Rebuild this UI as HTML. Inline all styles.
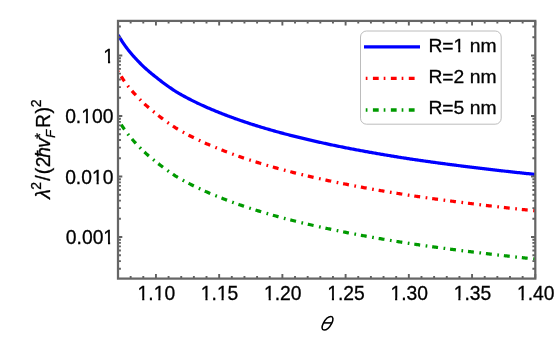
<!DOCTYPE html>
<html><head><meta charset="utf-8"><title>plot</title>
<style>html,body{margin:0;padding:0;background:#fff;}svg{display:block;will-change:transform;}text{font-family:"Liberation Sans",sans-serif;fill:#000;stroke:#000;stroke-width:0.3px;}</style>
</head><body>
<svg width="556" height="363" viewBox="0 0 556 363">
<rect x="0" y="0" width="556" height="363" fill="#fff"/>
<defs><clipPath id="cp"><rect x="118.00" y="20.90" width="417.30" height="257.70"/></clipPath></defs>
<g clip-path="url(#cp)" fill="none" stroke-linejoin="round">
<path d="M118.20,35.00 L119.24,36.79 L120.29,38.52 L121.33,40.18 L122.38,41.79 L123.42,43.35 L124.47,44.86 L125.51,46.32 L126.56,47.74 L127.60,49.11 L128.65,50.45 L129.69,51.75 L130.74,53.01 L131.78,54.24 L132.82,55.44 L133.87,56.61 L134.91,57.74 L135.96,58.86 L137.00,59.99 L138.05,61.11 L139.09,62.20 L140.14,63.26 L141.18,64.31 L142.23,65.33 L143.27,66.33 L144.31,67.31 L145.36,68.28 L146.40,69.22 L147.45,70.15 L148.49,71.06 L149.54,71.95 L150.58,72.83 L151.63,73.69 L152.67,74.54 L153.72,75.38 L154.76,76.19 L155.81,77.00 L156.85,77.85 L157.89,78.69 L158.94,79.52 L159.98,80.34 L161.03,81.15 L162.07,81.95 L163.12,82.74 L164.16,83.51 L165.21,84.28 L166.25,85.03 L167.30,85.78 L168.34,86.52 L169.38,87.24 L170.43,87.96 L171.47,88.67 L172.52,89.37 L173.56,90.06 L174.61,90.75 L175.65,91.43 L176.70,92.07 L177.74,92.68 L178.79,93.29 L179.83,93.89 L180.88,94.49 L181.92,95.07 L182.96,95.65 L184.01,96.23 L185.05,96.80 L186.10,97.36 L187.14,97.91 L188.19,98.46 L189.23,99.01 L190.28,99.54 L191.32,100.08 L192.37,100.60 L193.41,101.12 L194.45,101.64 L195.50,102.15 L196.54,102.66 L197.59,103.16 L198.63,103.65 L199.68,104.14 L200.72,104.63 L201.77,105.11 L202.81,105.59 L203.86,106.06 L204.90,106.53 L205.95,106.99 L206.99,107.45 L208.03,107.90 L209.08,108.36 L210.12,108.80 L211.17,109.25 L212.21,109.69 L213.26,110.12 L214.30,110.55 L215.35,110.98 L216.39,111.41 L217.44,111.83 L218.48,112.24 L219.52,112.66 L220.57,113.08 L221.61,113.49 L222.66,113.90 L223.70,114.31 L224.75,114.72 L225.79,115.12 L226.84,115.52 L227.88,115.91 L228.93,116.30 L229.97,116.69 L231.02,117.08 L232.06,117.46 L233.10,117.85 L234.15,118.22 L235.19,118.60 L236.24,118.97 L237.28,119.34 L238.33,119.71 L239.37,120.07 L240.42,120.43 L241.46,120.79 L242.51,121.15 L243.55,121.51 L244.59,121.86 L245.64,122.21 L246.68,122.56 L247.73,122.90 L248.77,123.24 L249.82,123.58 L250.86,123.92 L251.91,124.26 L252.95,124.59 L254.00,124.92 L255.04,125.25 L256.09,125.58 L257.13,125.91 L258.17,126.23 L259.22,126.55 L260.26,126.87 L261.31,127.19 L262.35,127.50 L263.40,127.82 L264.44,128.13 L265.49,128.44 L266.53,128.75 L267.58,129.05 L268.62,129.36 L269.67,129.66 L270.71,129.96 L271.75,130.26 L272.80,130.55 L273.84,130.85 L274.89,131.14 L275.93,131.44 L276.98,131.73 L278.02,132.02 L279.07,132.30 L280.11,132.59 L281.16,132.87 L282.20,133.15 L283.24,133.43 L284.29,133.71 L285.33,133.98 L286.38,134.26 L287.42,134.53 L288.47,134.80 L289.51,135.07 L290.56,135.34 L291.60,135.60 L292.65,135.87 L293.69,136.13 L294.74,136.39 L295.78,136.65 L296.82,136.91 L297.87,137.17 L298.91,137.43 L299.96,137.68 L301.00,137.94 L302.05,138.19 L303.09,138.44 L304.14,138.69 L305.18,138.94 L306.23,139.19 L307.27,139.43 L308.31,139.68 L309.36,139.92 L310.40,140.17 L311.45,140.41 L312.49,140.65 L313.54,140.89 L314.58,141.13 L315.63,141.36 L316.67,141.60 L317.72,141.83 L318.76,142.07 L319.81,142.30 L320.85,142.53 L321.89,142.76 L322.94,142.99 L323.98,143.22 L325.03,143.45 L326.07,143.67 L327.12,143.90 L328.16,144.12 L329.21,144.35 L330.25,144.57 L331.30,144.79 L332.34,145.01 L333.38,145.23 L334.43,145.45 L335.47,145.66 L336.52,145.88 L337.56,146.09 L338.61,146.31 L339.65,146.52 L340.70,146.73 L341.74,146.95 L342.79,147.16 L343.83,147.37 L344.88,147.58 L345.92,147.78 L346.96,147.99 L348.01,148.19 L349.05,148.39 L350.10,148.59 L351.14,148.80 L352.19,149.00 L353.23,149.20 L354.28,149.39 L355.32,149.59 L356.37,149.79 L357.41,149.98 L358.45,150.18 L359.50,150.37 L360.54,150.57 L361.59,150.76 L362.63,150.95 L363.68,151.15 L364.72,151.34 L365.77,151.53 L366.81,151.71 L367.86,151.90 L368.90,152.09 L369.95,152.28 L370.99,152.46 L372.03,152.65 L373.08,152.83 L374.12,153.02 L375.17,153.20 L376.21,153.38 L377.26,153.57 L378.30,153.75 L379.35,153.93 L380.39,154.11 L381.44,154.29 L382.48,154.46 L383.52,154.64 L384.57,154.82 L385.61,155.00 L386.66,155.17 L387.70,155.35 L388.75,155.52 L389.79,155.69 L390.84,155.87 L391.88,156.04 L392.93,156.21 L393.97,156.38 L395.02,156.55 L396.06,156.72 L397.10,156.89 L398.15,157.06 L399.19,157.23 L400.24,157.40 L401.28,157.56 L402.33,157.73 L403.37,157.90 L404.42,158.06 L405.46,158.22 L406.51,158.39 L407.55,158.55 L408.60,158.71 L409.64,158.87 L410.68,159.03 L411.73,159.18 L412.77,159.34 L413.82,159.49 L414.86,159.64 L415.91,159.80 L416.95,159.95 L418.00,160.10 L419.04,160.25 L420.09,160.40 L421.13,160.55 L422.17,160.70 L423.22,160.85 L424.26,161.00 L425.31,161.15 L426.35,161.29 L427.40,161.44 L428.44,161.59 L429.49,161.73 L430.53,161.88 L431.58,162.02 L432.62,162.17 L433.67,162.31 L434.71,162.45 L435.75,162.60 L436.80,162.74 L437.84,162.88 L438.89,163.02 L439.93,163.16 L440.98,163.31 L442.02,163.45 L443.07,163.58 L444.11,163.72 L445.16,163.86 L446.20,164.00 L447.24,164.14 L448.29,164.28 L449.33,164.41 L450.38,164.55 L451.42,164.68 L452.47,164.82 L453.51,164.96 L454.56,165.09 L455.60,165.22 L456.65,165.36 L457.69,165.49 L458.74,165.62 L459.78,165.76 L460.82,165.89 L461.87,166.02 L462.91,166.15 L463.96,166.28 L465.00,166.41 L466.05,166.54 L467.09,166.67 L468.14,166.80 L469.18,166.93 L470.23,167.06 L471.27,167.19 L472.31,167.31 L473.36,167.44 L474.40,167.57 L475.45,167.70 L476.49,167.83 L477.54,167.95 L478.58,168.08 L479.63,168.21 L480.67,168.33 L481.72,168.46 L482.76,168.58 L483.81,168.71 L484.85,168.83 L485.89,168.96 L486.94,169.08 L487.98,169.20 L489.03,169.33 L490.07,169.45 L491.12,169.57 L492.16,169.69 L493.21,169.81 L494.25,169.94 L495.30,170.06 L496.34,170.18 L497.38,170.30 L498.43,170.42 L499.47,170.54 L500.52,170.66 L501.56,170.77 L502.61,170.89 L503.65,171.01 L504.70,171.13 L505.74,171.25 L506.79,171.36 L507.83,171.48 L508.88,171.60 L509.92,171.71 L510.96,171.83 L512.01,171.94 L513.05,172.06 L514.10,172.17 L515.14,172.29 L516.19,172.40 L517.23,172.51 L518.28,172.63 L519.32,172.74 L520.37,172.85 L521.41,172.97 L522.45,173.08 L523.50,173.19 L524.54,173.30 L525.59,173.41 L526.63,173.52 L527.68,173.63 L528.72,173.74 L529.77,173.85 L530.81,173.96 L531.86,174.07 L532.90,174.18 L533.95,174.29 L534.99,174.40" stroke="#0000ff" stroke-width="3.25"/>
<path d="M118.20,71.44 L119.24,73.23 L120.29,74.96 L121.33,76.63 L122.38,78.24 L123.42,79.79 L124.47,81.30 L125.51,82.76 L126.56,84.18 L127.60,85.55 L128.65,86.89 L129.69,88.19 L130.74,89.45 L131.78,90.68 L132.82,91.88 L133.87,93.05 L134.91,94.19 L135.96,95.30 L137.00,96.44 L138.05,97.55 L139.09,98.64 L140.14,99.71 L141.18,100.75 L142.23,101.77 L143.27,102.77 L144.31,103.76 L145.36,104.72 L146.40,105.66 L147.45,106.59 L148.49,107.50 L149.54,108.40 L150.58,109.27 L151.63,110.14 L152.67,110.98 L153.72,111.82 L154.76,112.64 L155.81,113.44 L156.85,114.29 L157.89,115.13 L158.94,115.97 L159.98,116.79 L161.03,117.59 L162.07,118.39 L163.12,119.18 L164.16,119.95 L165.21,120.72 L166.25,121.48 L167.30,122.22 L168.34,122.96 L169.38,123.69 L170.43,124.40 L171.47,125.11 L172.52,125.81 L173.56,126.51 L174.61,127.19 L175.65,127.87 L176.70,128.51 L177.74,129.12 L178.79,129.73 L179.83,130.33 L180.88,130.93 L181.92,131.52 L182.96,132.10 L184.01,132.67 L185.05,133.24 L186.10,133.80 L187.14,134.36 L188.19,134.90 L189.23,135.45 L190.28,135.99 L191.32,136.52 L192.37,137.04 L193.41,137.57 L194.45,138.08 L195.50,138.59 L196.54,139.10 L197.59,139.60 L198.63,140.09 L199.68,140.58 L200.72,141.07 L201.77,141.55 L202.81,142.03 L203.86,142.50 L204.90,142.97 L205.95,143.43 L206.99,143.89 L208.03,144.35 L209.08,144.80 L210.12,145.25 L211.17,145.69 L212.21,146.13 L213.26,146.56 L214.30,147.00 L215.35,147.42 L216.39,147.85 L217.44,148.27 L218.48,148.69 L219.52,149.10 L220.57,149.52 L221.61,149.94 L222.66,150.35 L223.70,150.75 L224.75,151.16 L225.79,151.56 L226.84,151.96 L227.88,152.35 L228.93,152.75 L229.97,153.14 L231.02,153.52 L232.06,153.91 L233.10,154.29 L234.15,154.67 L235.19,155.04 L236.24,155.41 L237.28,155.78 L238.33,156.15 L239.37,156.52 L240.42,156.88 L241.46,157.24 L242.51,157.59 L243.55,157.95 L244.59,158.30 L245.64,158.65 L246.68,159.00 L247.73,159.34 L248.77,159.69 L249.82,160.03 L250.86,160.36 L251.91,160.70 L252.95,161.03 L254.00,161.37 L255.04,161.70 L256.09,162.02 L257.13,162.35 L258.17,162.67 L259.22,162.99 L260.26,163.31 L261.31,163.63 L262.35,163.95 L263.40,164.26 L264.44,164.57 L265.49,164.88 L266.53,165.19 L267.58,165.49 L268.62,165.80 L269.67,166.10 L270.71,166.40 L271.75,166.70 L272.80,167.00 L273.84,167.29 L274.89,167.59 L275.93,167.88 L276.98,168.17 L278.02,168.46 L279.07,168.74 L280.11,169.03 L281.16,169.31 L282.20,169.60 L283.24,169.87 L284.29,170.15 L285.33,170.43 L286.38,170.70 L287.42,170.97 L288.47,171.24 L289.51,171.51 L290.56,171.78 L291.60,172.05 L292.65,172.31 L293.69,172.57 L294.74,172.84 L295.78,173.10 L296.82,173.36 L297.87,173.61 L298.91,173.87 L299.96,174.13 L301.00,174.38 L302.05,174.63 L303.09,174.88 L304.14,175.13 L305.18,175.38 L306.23,175.63 L307.27,175.88 L308.31,176.12 L309.36,176.37 L310.40,176.61 L311.45,176.85 L312.49,177.09 L313.54,177.33 L314.58,177.57 L315.63,177.81 L316.67,178.04 L317.72,178.28 L318.76,178.51 L319.81,178.74 L320.85,178.97 L321.89,179.20 L322.94,179.43 L323.98,179.66 L325.03,179.89 L326.07,180.12 L327.12,180.34 L328.16,180.56 L329.21,180.79 L330.25,181.01 L331.30,181.23 L332.34,181.45 L333.38,181.67 L334.43,181.89 L335.47,182.11 L336.52,182.32 L337.56,182.54 L338.61,182.75 L339.65,182.96 L340.70,183.18 L341.74,183.39 L342.79,183.60 L343.83,183.81 L344.88,184.02 L345.92,184.22 L346.96,184.43 L348.01,184.63 L349.05,184.83 L350.10,185.04 L351.14,185.24 L352.19,185.44 L353.23,185.64 L354.28,185.84 L355.32,186.03 L356.37,186.23 L357.41,186.43 L358.45,186.62 L359.50,186.82 L360.54,187.01 L361.59,187.20 L362.63,187.40 L363.68,187.59 L364.72,187.78 L365.77,187.97 L366.81,188.16 L367.86,188.35 L368.90,188.53 L369.95,188.72 L370.99,188.91 L372.03,189.09 L373.08,189.28 L374.12,189.46 L375.17,189.64 L376.21,189.83 L377.26,190.01 L378.30,190.19 L379.35,190.37 L380.39,190.55 L381.44,190.73 L382.48,190.91 L383.52,191.08 L384.57,191.26 L385.61,191.44 L386.66,191.61 L387.70,191.79 L388.75,191.96 L389.79,192.14 L390.84,192.31 L391.88,192.48 L392.93,192.65 L393.97,192.83 L395.02,193.00 L396.06,193.17 L397.10,193.33 L398.15,193.50 L399.19,193.67 L400.24,193.84 L401.28,194.01 L402.33,194.17 L403.37,194.34 L404.42,194.50 L405.46,194.67 L406.51,194.83 L407.55,194.99 L408.60,195.16 L409.64,195.31 L410.68,195.47 L411.73,195.62 L412.77,195.78 L413.82,195.93 L414.86,196.09 L415.91,196.24 L416.95,196.39 L418.00,196.54 L419.04,196.69 L420.09,196.84 L421.13,196.99 L422.17,197.14 L423.22,197.29 L424.26,197.44 L425.31,197.59 L426.35,197.74 L427.40,197.88 L428.44,198.03 L429.49,198.18 L430.53,198.32 L431.58,198.47 L432.62,198.61 L433.67,198.75 L434.71,198.90 L435.75,199.04 L436.80,199.18 L437.84,199.32 L438.89,199.47 L439.93,199.61 L440.98,199.75 L442.02,199.89 L443.07,200.03 L444.11,200.17 L445.16,200.31 L446.20,200.44 L447.24,200.58 L448.29,200.72 L449.33,200.86 L450.38,200.99 L451.42,201.13 L452.47,201.26 L453.51,201.40 L454.56,201.53 L455.60,201.67 L456.65,201.80 L457.69,201.93 L458.74,202.07 L459.78,202.20 L460.82,202.33 L461.87,202.46 L462.91,202.59 L463.96,202.72 L465.00,202.85 L466.05,202.98 L467.09,203.11 L468.14,203.24 L469.18,203.37 L470.23,203.50 L471.27,203.63 L472.31,203.76 L473.36,203.88 L474.40,204.01 L475.45,204.14 L476.49,204.27 L477.54,204.40 L478.58,204.52 L479.63,204.65 L480.67,204.77 L481.72,204.90 L482.76,205.03 L483.81,205.15 L484.85,205.28 L485.89,205.40 L486.94,205.52 L487.98,205.65 L489.03,205.77 L490.07,205.89 L491.12,206.01 L492.16,206.14 L493.21,206.26 L494.25,206.38 L495.30,206.50 L496.34,206.62 L497.38,206.74 L498.43,206.86 L499.47,206.98 L500.52,207.10 L501.56,207.22 L502.61,207.34 L503.65,207.45 L504.70,207.57 L505.74,207.69 L506.79,207.81 L507.83,207.92 L508.88,208.04 L509.92,208.15 L510.96,208.27 L512.01,208.39 L513.05,208.50 L514.10,208.61 L515.14,208.73 L516.19,208.84 L517.23,208.96 L518.28,209.07 L519.32,209.18 L520.37,209.30 L521.41,209.41 L522.45,209.52 L523.50,209.63 L524.54,209.74 L525.59,209.85 L526.63,209.97 L527.68,210.08 L528.72,210.19 L529.77,210.30 L530.81,210.41 L531.86,210.52 L532.90,210.62 L533.95,210.73 L534.99,210.84" stroke="#ff0000" stroke-width="3.25" stroke-dasharray="1.7 4.92 5.9 5.54" stroke-dashoffset="0.85"/>
<path d="M118.20,119.62 L119.24,121.41 L120.29,123.13 L121.33,124.80 L122.38,126.41 L123.42,127.97 L124.47,129.48 L125.51,130.94 L126.56,132.35 L127.60,133.73 L128.65,135.07 L129.69,136.36 L130.74,137.63 L131.78,138.86 L132.82,140.06 L133.87,141.22 L134.91,142.36 L135.96,143.47 L137.00,144.61 L138.05,145.72 L139.09,146.81 L140.14,147.88 L141.18,148.92 L142.23,149.95 L143.27,150.95 L144.31,151.93 L145.36,152.89 L146.40,153.84 L147.45,154.77 L148.49,155.68 L149.54,156.57 L150.58,157.45 L151.63,158.31 L152.67,159.16 L153.72,159.99 L154.76,160.81 L155.81,161.62 L156.85,162.46 L157.89,163.31 L158.94,164.14 L159.98,164.96 L161.03,165.77 L162.07,166.57 L163.12,167.35 L164.16,168.13 L165.21,168.89 L166.25,169.65 L167.30,170.40 L168.34,171.13 L169.38,171.86 L170.43,172.58 L171.47,173.29 L172.52,173.99 L173.56,174.68 L174.61,175.37 L175.65,176.04 L176.70,176.68 L177.74,177.30 L178.79,177.91 L179.83,178.51 L180.88,179.10 L181.92,179.69 L182.96,180.27 L184.01,180.85 L185.05,181.41 L186.10,181.97 L187.14,182.53 L188.19,183.08 L189.23,183.62 L190.28,184.16 L191.32,184.69 L192.37,185.22 L193.41,185.74 L194.45,186.26 L195.50,186.77 L196.54,187.27 L197.59,187.77 L198.63,188.27 L199.68,188.76 L200.72,189.25 L201.77,189.73 L202.81,190.20 L203.86,190.68 L204.90,191.14 L205.95,191.61 L206.99,192.07 L208.03,192.52 L209.08,192.97 L210.12,193.42 L211.17,193.86 L212.21,194.30 L213.26,194.74 L214.30,195.17 L215.35,195.60 L216.39,196.02 L217.44,196.44 L218.48,196.86 L219.52,197.28 L220.57,197.70 L221.61,198.11 L222.66,198.52 L223.70,198.93 L224.75,199.33 L225.79,199.74 L226.84,200.13 L227.88,200.53 L228.93,200.92 L229.97,201.31 L231.02,201.70 L232.06,202.08 L233.10,202.46 L234.15,202.84 L235.19,203.22 L236.24,203.59 L237.28,203.96 L238.33,204.33 L239.37,204.69 L240.42,205.05 L241.46,205.41 L242.51,205.77 L243.55,206.12 L244.59,206.48 L245.64,206.83 L246.68,207.17 L247.73,207.52 L248.77,207.86 L249.82,208.20 L250.86,208.54 L251.91,208.88 L252.95,209.21 L254.00,209.54 L255.04,209.87 L256.09,210.20 L257.13,210.52 L258.17,210.85 L259.22,211.17 L260.26,211.49 L261.31,211.81 L262.35,212.12 L263.40,212.43 L264.44,212.75 L265.49,213.06 L266.53,213.36 L267.58,213.67 L268.62,213.97 L269.67,214.28 L270.71,214.58 L271.75,214.88 L272.80,215.17 L273.84,215.47 L274.89,215.76 L275.93,216.05 L276.98,216.34 L278.02,216.63 L279.07,216.92 L280.11,217.21 L281.16,217.49 L282.20,217.77 L283.24,218.05 L284.29,218.33 L285.33,218.60 L286.38,218.87 L287.42,219.15 L288.47,219.42 L289.51,219.69 L290.56,219.95 L291.60,220.22 L292.65,220.48 L293.69,220.75 L294.74,221.01 L295.78,221.27 L296.82,221.53 L297.87,221.79 L298.91,222.04 L299.96,222.30 L301.00,222.55 L302.05,222.81 L303.09,223.06 L304.14,223.31 L305.18,223.56 L306.23,223.81 L307.27,224.05 L308.31,224.30 L309.36,224.54 L310.40,224.78 L311.45,225.03 L312.49,225.27 L313.54,225.51 L314.58,225.74 L315.63,225.98 L316.67,226.22 L317.72,226.45 L318.76,226.68 L319.81,226.92 L320.85,227.15 L321.89,227.38 L322.94,227.61 L323.98,227.84 L325.03,228.06 L326.07,228.29 L327.12,228.52 L328.16,228.74 L329.21,228.96 L330.25,229.18 L331.30,229.41 L332.34,229.63 L333.38,229.84 L334.43,230.06 L335.47,230.28 L336.52,230.50 L337.56,230.71 L338.61,230.93 L339.65,231.14 L340.70,231.35 L341.74,231.56 L342.79,231.77 L343.83,231.98 L344.88,232.19 L345.92,232.40 L346.96,232.60 L348.01,232.81 L349.05,233.01 L350.10,233.21 L351.14,233.41 L352.19,233.61 L353.23,233.81 L354.28,234.01 L355.32,234.21 L356.37,234.41 L357.41,234.60 L358.45,234.80 L359.50,234.99 L360.54,235.19 L361.59,235.38 L362.63,235.57 L363.68,235.76 L364.72,235.95 L365.77,236.14 L366.81,236.33 L367.86,236.52 L368.90,236.71 L369.95,236.90 L370.99,237.08 L372.03,237.27 L373.08,237.45 L374.12,237.64 L375.17,237.82 L376.21,238.00 L377.26,238.18 L378.30,238.36 L379.35,238.54 L380.39,238.72 L381.44,238.90 L382.48,239.08 L383.52,239.26 L384.57,239.44 L385.61,239.61 L386.66,239.79 L387.70,239.96 L388.75,240.14 L389.79,240.31 L390.84,240.48 L391.88,240.66 L392.93,240.83 L393.97,241.00 L395.02,241.17 L396.06,241.34 L397.10,241.51 L398.15,241.68 L399.19,241.85 L400.24,242.01 L401.28,242.18 L402.33,242.35 L403.37,242.51 L404.42,242.68 L405.46,242.84 L406.51,243.01 L407.55,243.17 L408.60,243.33 L409.64,243.49 L410.68,243.64 L411.73,243.80 L412.77,243.95 L413.82,244.11 L414.86,244.26 L415.91,244.41 L416.95,244.56 L418.00,244.72 L419.04,244.87 L420.09,245.02 L421.13,245.17 L422.17,245.32 L423.22,245.47 L424.26,245.62 L425.31,245.76 L426.35,245.91 L427.40,246.06 L428.44,246.20 L429.49,246.35 L430.53,246.50 L431.58,246.64 L432.62,246.78 L433.67,246.93 L434.71,247.07 L435.75,247.21 L436.80,247.36 L437.84,247.50 L438.89,247.64 L439.93,247.78 L440.98,247.92 L442.02,248.06 L443.07,248.20 L444.11,248.34 L445.16,248.48 L446.20,248.62 L447.24,248.76 L448.29,248.89 L449.33,249.03 L450.38,249.17 L451.42,249.30 L452.47,249.44 L453.51,249.57 L454.56,249.71 L455.60,249.84 L456.65,249.98 L457.69,250.11 L458.74,250.24 L459.78,250.37 L460.82,250.51 L461.87,250.64 L462.91,250.77 L463.96,250.90 L465.00,251.03 L466.05,251.16 L467.09,251.29 L468.14,251.42 L469.18,251.55 L470.23,251.67 L471.27,251.80 L472.31,251.93 L473.36,252.06 L474.40,252.19 L475.45,252.32 L476.49,252.44 L477.54,252.57 L478.58,252.70 L479.63,252.82 L480.67,252.95 L481.72,253.08 L482.76,253.20 L483.81,253.33 L484.85,253.45 L485.89,253.57 L486.94,253.70 L487.98,253.82 L489.03,253.94 L490.07,254.07 L491.12,254.19 L492.16,254.31 L493.21,254.43 L494.25,254.55 L495.30,254.67 L496.34,254.79 L497.38,254.91 L498.43,255.03 L499.47,255.15 L500.52,255.27 L501.56,255.39 L502.61,255.51 L503.65,255.63 L504.70,255.75 L505.74,255.86 L506.79,255.98 L507.83,256.10 L508.88,256.21 L509.92,256.33 L510.96,256.44 L512.01,256.56 L513.05,256.67 L514.10,256.79 L515.14,256.90 L516.19,257.02 L517.23,257.13 L518.28,257.24 L519.32,257.36 L520.37,257.47 L521.41,257.58 L522.45,257.70 L523.50,257.81 L524.54,257.92 L525.59,258.03 L526.63,258.14 L527.68,258.25 L528.72,258.36 L529.77,258.47 L530.81,258.58 L531.86,258.69 L532.90,258.80 L533.95,258.91 L534.99,259.02" stroke="#009a00" stroke-width="3.25" stroke-dasharray="1.7 4.92 5.9 5.54" stroke-dashoffset="0.85"/>
</g>
<path d="M118.00,278.60 v-2.70 M118.00,20.90 v2.70 M130.65,278.60 v-2.70 M130.65,20.90 v2.70 M143.29,278.60 v-2.70 M143.29,20.90 v2.70 M155.94,278.60 v-4.50 M155.94,20.90 v4.50 M168.58,278.60 v-2.70 M168.58,20.90 v2.70 M181.23,278.60 v-2.70 M181.23,20.90 v2.70 M193.87,278.60 v-2.70 M193.87,20.90 v2.70 M206.51,278.60 v-2.70 M206.51,20.90 v2.70 M219.16,278.60 v-4.50 M219.16,20.90 v4.50 M231.80,278.60 v-2.70 M231.80,20.90 v2.70 M244.45,278.60 v-2.70 M244.45,20.90 v2.70 M257.09,278.60 v-2.70 M257.09,20.90 v2.70 M269.74,278.60 v-2.70 M269.74,20.90 v2.70 M282.38,278.60 v-4.50 M282.38,20.90 v4.50 M295.03,278.60 v-2.70 M295.03,20.90 v2.70 M307.67,278.60 v-2.70 M307.67,20.90 v2.70 M320.32,278.60 v-2.70 M320.32,20.90 v2.70 M332.96,278.60 v-2.70 M332.96,20.90 v2.70 M345.61,278.60 v-4.50 M345.61,20.90 v4.50 M358.25,278.60 v-2.70 M358.25,20.90 v2.70 M370.90,278.60 v-2.70 M370.90,20.90 v2.70 M383.54,278.60 v-2.70 M383.54,20.90 v2.70 M396.19,278.60 v-2.70 M396.19,20.90 v2.70 M408.83,278.60 v-4.50 M408.83,20.90 v4.50 M421.48,278.60 v-2.70 M421.48,20.90 v2.70 M434.12,278.60 v-2.70 M434.12,20.90 v2.70 M446.77,278.60 v-2.70 M446.77,20.90 v2.70 M459.42,278.60 v-2.70 M459.42,20.90 v2.70 M472.06,278.60 v-4.50 M472.06,20.90 v4.50 M484.71,278.60 v-2.70 M484.71,20.90 v2.70 M497.35,278.60 v-2.70 M497.35,20.90 v2.70 M509.99,278.60 v-2.70 M509.99,20.90 v2.70 M522.64,278.60 v-2.70 M522.64,20.90 v2.70 M535.28,278.60 v-4.50 M535.28,20.90 v4.50 M118.00,268.69 h2.90 M535.30,268.69 h-2.90 M118.00,261.13 h2.90 M535.30,261.13 h-2.90 M118.00,255.26 h2.90 M535.30,255.26 h-2.90 M118.00,250.47 h2.90 M535.30,250.47 h-2.90 M118.00,246.42 h2.90 M535.30,246.42 h-2.90 M118.00,242.91 h2.90 M535.30,242.91 h-2.90 M118.00,239.81 h2.90 M535.30,239.81 h-2.90 M118.00,237.04 h4.30 M535.30,237.04 h-4.30 M118.00,218.82 h2.90 M535.30,218.82 h-2.90 M118.00,208.16 h2.90 M535.30,208.16 h-2.90 M118.00,200.60 h2.90 M535.30,200.60 h-2.90 M118.00,194.73 h2.90 M535.30,194.73 h-2.90 M118.00,189.94 h2.90 M535.30,189.94 h-2.90 M118.00,185.89 h2.90 M535.30,185.89 h-2.90 M118.00,182.38 h2.90 M535.30,182.38 h-2.90 M118.00,179.28 h2.90 M535.30,179.28 h-2.90 M118.00,176.51 h4.30 M535.30,176.51 h-4.30 M118.00,158.29 h2.90 M535.30,158.29 h-2.90 M118.00,147.63 h2.90 M535.30,147.63 h-2.90 M118.00,140.07 h2.90 M535.30,140.07 h-2.90 M118.00,134.20 h2.90 M535.30,134.20 h-2.90 M118.00,129.41 h2.90 M535.30,129.41 h-2.90 M118.00,125.36 h2.90 M535.30,125.36 h-2.90 M118.00,121.85 h2.90 M535.30,121.85 h-2.90 M118.00,118.75 h2.90 M535.30,118.75 h-2.90 M118.00,115.98 h4.30 M535.30,115.98 h-4.30 M118.00,97.76 h2.90 M535.30,97.76 h-2.90 M118.00,87.10 h2.90 M535.30,87.10 h-2.90 M118.00,79.54 h2.90 M535.30,79.54 h-2.90 M118.00,73.67 h2.90 M535.30,73.67 h-2.90 M118.00,68.88 h2.90 M535.30,68.88 h-2.90 M118.00,64.83 h2.90 M535.30,64.83 h-2.90 M118.00,61.32 h2.90 M535.30,61.32 h-2.90 M118.00,58.22 h2.90 M535.30,58.22 h-2.90 M118.00,55.45 h4.30 M535.30,55.45 h-4.30 M118.00,37.23 h2.90 M535.30,37.23 h-2.90 M118.00,26.57 h2.90 M535.30,26.57 h-2.90" stroke="#606060" stroke-width="1.90" fill="none"/>
<rect x="118.00" y="20.90" width="417.30" height="257.70" fill="none" stroke="#666666" stroke-width="2.25"/>
<g transform="translate(156.34,300.25) scale(0.965,1)"><text font-size="20.00" text-anchor="middle">1.10</text><rect x="-18.94" y="-2.50" width="4.28" height="4.50" fill="#fff"/><rect x="-12.44" y="-2.50" width="4.12" height="4.50" fill="#fff"/><rect x="-2.26" y="-2.50" width="4.28" height="4.50" fill="#fff"/><rect x="4.24" y="-2.50" width="4.12" height="4.50" fill="#fff"/></g>
<g transform="translate(219.56,300.25) scale(0.965,1)"><text font-size="20.00" text-anchor="middle">1.15</text><rect x="-18.94" y="-2.50" width="4.28" height="4.50" fill="#fff"/><rect x="-12.44" y="-2.50" width="4.12" height="4.50" fill="#fff"/><rect x="-2.26" y="-2.50" width="4.28" height="4.50" fill="#fff"/><rect x="4.24" y="-2.50" width="4.12" height="4.50" fill="#fff"/></g>
<g transform="translate(282.78,300.25) scale(0.965,1)"><text font-size="20.00" text-anchor="middle">1.20</text><rect x="-18.94" y="-2.50" width="4.28" height="4.50" fill="#fff"/><rect x="-12.44" y="-2.50" width="4.12" height="4.50" fill="#fff"/></g>
<g transform="translate(346.01,300.25) scale(0.965,1)"><text font-size="20.00" text-anchor="middle">1.25</text><rect x="-18.94" y="-2.50" width="4.28" height="4.50" fill="#fff"/><rect x="-12.44" y="-2.50" width="4.12" height="4.50" fill="#fff"/></g>
<g transform="translate(409.23,300.25) scale(0.965,1)"><text font-size="20.00" text-anchor="middle">1.30</text><rect x="-18.94" y="-2.50" width="4.28" height="4.50" fill="#fff"/><rect x="-12.44" y="-2.50" width="4.12" height="4.50" fill="#fff"/></g>
<g transform="translate(472.46,300.25) scale(0.965,1)"><text font-size="20.00" text-anchor="middle">1.35</text><rect x="-18.94" y="-2.50" width="4.28" height="4.50" fill="#fff"/><rect x="-12.44" y="-2.50" width="4.12" height="4.50" fill="#fff"/></g>
<g transform="translate(535.68,300.25) scale(0.965,1)"><text font-size="20.00" text-anchor="middle">1.40</text><rect x="-18.94" y="-2.50" width="4.28" height="4.50" fill="#fff"/><rect x="-12.44" y="-2.50" width="4.12" height="4.50" fill="#fff"/></g>
<g transform="translate(114.10,62.80) scale(0.965,1)"><text font-size="20.00" text-anchor="end">1</text><rect x="-10.60" y="-2.50" width="4.28" height="4.50" fill="#fff"/><rect x="-4.10" y="-2.50" width="4.12" height="4.50" fill="#fff"/></g>
<g transform="translate(113.40,123.33) scale(0.965,1)"><text font-size="20.00" text-anchor="end">0.100</text><rect x="-32.85" y="-2.50" width="4.28" height="4.50" fill="#fff"/><rect x="-26.35" y="-2.50" width="4.12" height="4.50" fill="#fff"/></g>
<g transform="translate(113.40,183.86) scale(0.965,1)"><text font-size="20.00" text-anchor="end">0.010</text><rect x="-21.73" y="-2.50" width="4.28" height="4.50" fill="#fff"/><rect x="-15.23" y="-2.50" width="4.12" height="4.50" fill="#fff"/></g>
<g transform="translate(114.10,244.39) scale(0.965,1)"><text font-size="20.00" text-anchor="end">0.001</text><rect x="-10.60" y="-2.50" width="4.28" height="4.50" fill="#fff"/><rect x="-4.10" y="-2.50" width="4.12" height="4.50" fill="#fff"/></g>
<g fill="none" stroke="#000" stroke-width="1.55"><ellipse cx="0" cy="0" rx="4.2" ry="6.7" vector-effect="non-scaling-stroke" transform="translate(327.5,323.3) skewX(-27.5)"/><path d="M323.4,322.9 H331.8"/></g>
<g transform="translate(50.30,199.80) rotate(-90)">
<text transform="translate(1.12,0.00) scale(1.000,1)" font-size="19.40" font-style="italic">λ</text>
<text transform="translate(10.00,-9.60) scale(1.000,1)" font-size="14.00">2</text>
<text transform="translate(19.05,0.00) scale(1.000,1)" font-size="19.40">/</text>
<text transform="translate(25.50,0.00) scale(1.000,1)" font-size="19.40">(</text>
<text transform="translate(32.60,0.00) scale(1.000,1)" font-size="19.40">2</text>
<text transform="translate(42.10,0.00) scale(1.000,1)" font-size="19.40" font-style="italic">ħ</text>
<text transform="translate(51.98,0.00) scale(1.000,1)" font-size="19.40" font-style="italic">v</text>
<text transform="translate(61.70,4.45) scale(1.000,1)" font-size="13.50" font-style="italic">F</text>
<text transform="translate(61.10,-5.50) scale(1.000,1)" font-size="14.50">*</text>
<text transform="translate(72.00,0.00) scale(0.970,1)" font-size="19.40">R</text>
<text transform="translate(86.25,0.00) scale(1.000,1)" font-size="19.40">)</text>
<text transform="translate(92.45,-9.60) scale(1.000,1)" font-size="14.00">2</text>
</g>
<rect x="360.5" y="31" width="140.7" height="93.2" rx="6" ry="6" fill="#fff" stroke="#b4b4b4" stroke-width="0.9"/>
<path d="M364,46.9 H420" stroke="#0000ff" stroke-width="3.4" fill="none"/>
<path d="M365.75,78.45 h1.7 M372.90,78.45 h5.8 M383.70,78.45 h1.7 M390.85,78.45 h5.8 M401.65,78.45 h1.7 M408.80,78.45 h5.8" stroke="#ff0000" stroke-width="3.3" fill="none"/>
<path d="M365.75,110.00 h1.7 M372.90,110.00 h5.8 M383.70,110.00 h1.7 M390.85,110.00 h5.8 M401.65,110.00 h1.7 M408.80,110.00 h5.8" stroke="#009a00" stroke-width="3.3" fill="none"/>
<g transform="translate(428.40,51.55) scale(1.016,1)"><text font-size="19.00" text-anchor="start">R=1 nm</text><rect x="25.26" y="-2.42" width="4.10" height="4.42" fill="#fff"/><rect x="31.50" y="-2.42" width="3.95" height="4.42" fill="#fff"/></g>
<g transform="translate(428.40,82.95) scale(1.016,1)"><text font-size="19.00" text-anchor="start">R=2 nm</text></g>
<g transform="translate(428.40,114.35) scale(1.016,1)"><text font-size="19.00" text-anchor="start">R=5 nm</text></g>
</svg>
</body></html>
